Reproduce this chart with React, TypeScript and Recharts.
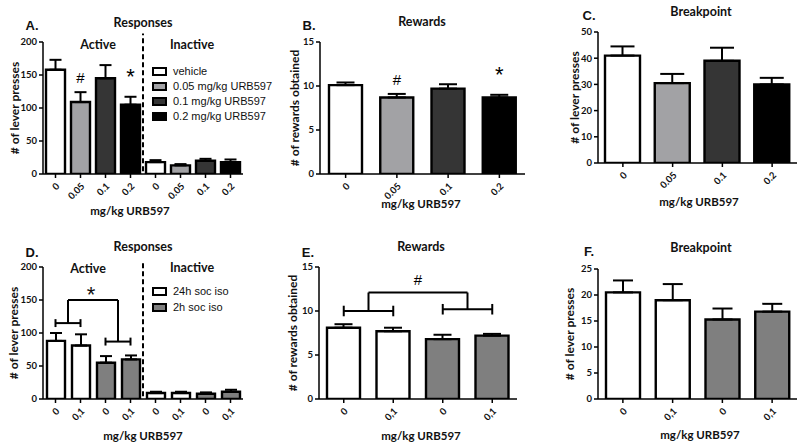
import React from 'react'
import {
  BarChart,
  Bar,
  XAxis,
  YAxis,
  Cell,
  ErrorBar,
  ReferenceLine,
  ReferenceDot,
} from 'recharts'

const CAL = 'Lato, "Open Sans", sans-serif'
const ARIAL = '"Liberation Sans", Arial, sans-serif'

// panels A-C: URB597 dose
const doseLabels = ['0', '0.05', '0.1', '0.2']
const doseFills = ['#ffffff', '#a2a2a5', '#353535', '#000000']
const doseLegend = ['vehicle', '0.05 mg/kg URB597', '0.1 mg/kg URB597', '0.2 mg/kg URB597']

const respActive = [158, 109, 145, 105]
const respActiveSem = [15, 15, 20, 12]
const respInactive = [18, 13, 20, 18]
const respInactiveSem = [3, 2, 3, 4]
const respMarks = ['', '#', '', '*']

const rewards = [10.1, 8.7, 9.7, 8.7]
const rewardsSem = [0.3, 0.4, 0.5, 0.3]
const rewardsMarks = ['', '#', '', '*']

const breakpoint = [41, 30.5, 39, 30]
const breakpointSem = [3.5, 3.5, 5, 2.5]

// panels D-F: social isolation
const isoLabels = ['0', '0,1', '0', '0,1']
const isoFills = ['#ffffff', '#ffffff', '#7f7f7f', '#7f7f7f']
const isoLegend = ['24h soc iso', '2h soc iso']
const isoLegendFills = ['#ffffff', '#7f7f7f']

const isoActive = [88, 81, 55, 60]
const isoActiveSem = [12, 17, 10, 6]
const isoInactive = [9, 9, 8, 11]
const isoInactiveSem = [2, 2, 2, 3]
const isoActiveBrackets = [115, 87, 150] // left pair, right pair, joining line

const isoRewards = [8.1, 7.7, 6.8, 7.2]
const isoRewardsSem = [0.4, 0.4, 0.5, 0.2]
const isoRewardsBrackets = [10.0, 10.2, 12.1]

const isoBreakpoint = [20.5, 19, 15.3, 16.8]
const isoBreakpointSem = [2.3, 3.1, 2.1, 1.5]

const ticks200 = [0, 50, 100, 150, 200]
const ticks15 = [0, 5, 10, 15]
const ticks50 = [0, 10, 20, 30, 40, 50]
const ticks25 = [0, 5, 10, 15, 20, 25]

type Row = { label: string; slot: number; v: number; err: number[]; fill: string; mark: string }

const rows = (labels: string[], fills: string[], vals: number[], sems: number[], marks?: string[], first = 0): Row[] =>
  labels.map((label, i) => ({
    label,
    slot: first + i + 0.5,
    v: vals[i],
    err: [0, sems[i]],
    fill: fills[i],
    mark: marks ? marks[i] : '',
  }))

const dataA = [
  ...rows(doseLabels, doseFills, respActive, respActiveSem, respMarks),
  ...rows(doseLabels, doseFills, respInactive, respInactiveSem, undefined, 4),
]
const dataB = rows(doseLabels, doseFills, rewards, rewardsSem, rewardsMarks)
const dataC = rows(doseLabels, doseFills, breakpoint, breakpointSem)
const dataD = [
  ...rows(isoLabels, isoFills, isoActive, isoActiveSem),
  ...rows(isoLabels, isoFills, isoInactive, isoInactiveSem, undefined, 4),
]
const dataE = rows(isoLabels, isoFills, isoRewards, isoRewardsSem)
const dataF = rows(isoLabels, isoFills, isoBreakpoint, isoBreakpointSem)

const tickFont = { fill: '#111', fontSize: 9.5, fontWeight: 700, fontFamily: CAL }
const line = { stroke: '#000', strokeWidth: 1.5 }

function seg(key: string, x1: number, y1: number, x2: number, y2: number, dashed = false) {
  return (
    <ReferenceLine
      key={key}
      xAxisId="n"
      segment={[{ x: x1, y: y1 }, { x: x2, y: y2 }]}
      stroke="#000"
      strokeWidth={2}
      strokeDasharray={dashed ? '5 3' : undefined}
      ifOverflow="visible"
    />
  )
}

// two pair brackets joined by an upper one
function brackets(levels: number[], tick: number) {
  const [l, r, top] = levels
  return [
    seg('bl', 0.5, l, 1.5, l),
    seg('bl1', 0.5, l - tick, 0.5, l + tick),
    seg('bl2', 1.5, l - tick, 1.5, l + tick),
    seg('br', 2.5, r, 3.5, r),
    seg('br1', 2.5, r - tick, 2.5, r + tick),
    seg('br2', 3.5, r - tick, 3.5, r + tick),
    seg('bt', 1, top, 3, top),
    seg('bt1', 1, l, 1, top),
    seg('bt2', 3, r, 3, top),
  ]
}

function marks(data: Row[]) {
  return data
    .map((d, i) =>
      d.mark ? (
        <ReferenceDot
          key={'m' + i}
          xAxisId="n"
          x={d.slot}
          y={d.v + d.err[1]}
          r={0}
          fill="none"
          stroke="none"
          ifOverflow="visible"
          label={{
            value: d.mark,
            position: 'top',
            offset: d.mark === '*' ? 13 : 9,
            fontSize: d.mark === '*' ? 22 : 15,
            fontFamily: ARIAL,
            fill: '#000',
          }}
        />
      ) : null,
    )
    .filter(Boolean)
}

type Box = { x: number; y: number; w: number; h: number }
type Plot = { l: number; t: number; r: number; b: number }

function Panel(p: {
  box: Box
  plot: Plot
  yLabelX: number
  data: Row[]
  yMax: number
  ticks: number[]
  barSize: number
  cap: number
  yLabel: string
  extras?: any[]
}) {
  const { box, plot, data } = p
  const ml = 4
  const xh = 30
  const margin = {
    top: plot.t - box.y,
    left: ml,
    right: box.x + box.w - plot.r,
    bottom: box.y + box.h - plot.b - xh,
  }
  return (
    <div style={{ position: 'absolute', left: box.x, top: box.y }}>
      <BarChart width={box.w} height={box.h} data={data} margin={margin}>
        <XAxis
          dataKey="label"
          height={xh}
          interval={0}
          tickSize={4}
          tickMargin={4}
          axisLine={line}
          tickLine={line}
          tick={{ ...tickFont, angle: -45, textAnchor: 'end' }}
        />
        <XAxis
          xAxisId="n"
          dataKey="slot"
          type="number"
          domain={[0, data.length]}
          allowDataOverflow
          hide
        />
        <YAxis
          width={plot.l - box.x - ml}
          domain={[0, p.yMax]}
          ticks={p.ticks}
          interval={0}
          allowDataOverflow
          tickSize={4}
          tickMargin={2}
          axisLine={line}
          tickLine={line}
          tick={tickFont}
          label={{
            value: p.yLabel,
            angle: -90,
            position: 'insideLeft',
            offset: p.yLabelX - box.x - ml,
            style: { textAnchor: 'middle', fontFamily: CAL, fontWeight: 700, fontSize: 12, fill: '#111' },
          }}
        />
        <Bar dataKey="v" barSize={p.barSize} stroke="#000" strokeWidth={2.4} isAnimationActive={false}>
          {data.map((d, i) => (
            <Cell key={i} fill={d.fill} />
          ))}
          <ErrorBar dataKey="err" width={p.cap} stroke="#000" strokeWidth={2} direction="y" />
        </Bar>
        {p.extras}
        {marks(data)}
      </BarChart>
    </div>
  )
}

function Txt({ t, x, y, size, font = CAL, bold = true }: any) {
  return (
    <div
      style={{
        position: 'absolute',
        left: x,
        top: y,
        transform: 'translate(-50%, -50%)',
        whiteSpace: 'nowrap',
        lineHeight: 1,
        fontFamily: font,
        fontWeight: bold ? 700 : 400,
        fontSize: size,
        color: '#111',
      }}
    >
      {t}
    </div>
  )
}

function Legend({ x, y, names, fills, step }: { x: number; y: number; names: string[]; fills: string[]; step: number }) {
  return (
    <>
      {names.map((n, i) => (
        <div
          key={n}
          style={{
            position: 'absolute',
            left: x,
            top: y + i * step - 6,
            height: 12,
            display: 'flex',
            alignItems: 'center',
            whiteSpace: 'nowrap',
            fontFamily: ARIAL,
            fontSize: 11,
            color: '#111',
          }}
        >
          <span
            style={{
              display: 'inline-block',
              width: 11,
              height: 5,
              border: '2px solid #000',
              background: fills[i],
              marginRight: 6,
            }}
          />
          {n}
        </div>
      ))}
    </>
  )
}

export default function App() {
  return (
    <div style={{ position: 'absolute', left: 0, top: 0, width: 800, height: 448, background: '#fff', overflow: 'hidden' }}>
      <Panel
        box={{ x: 0, y: 0, w: 265, h: 222 }}
        plot={{ l: 43, t: 42, r: 243, b: 174 }}
        yLabelX={15}
        data={dataA}
        yMax={200}
        ticks={ticks200}
        barSize={19}
        cap={6}
        yLabel="# of lever presses"
        extras={[seg('dash', 4, 4, 4, 213, true)]}
      />
      <Panel
        box={{ x: 270, y: 0, w: 260, h: 222 }}
        plot={{ l: 320, t: 42, r: 525, b: 174 }}
        yLabelX={295}
        data={dataB}
        yMax={15}
        ticks={ticks15}
        barSize={33}
        cap={9}
        yLabel="# of rewards obtained"
      />
      <Panel
        box={{ x: 530, y: 0, w: 270, h: 222 }}
        plot={{ l: 598, t: 32, r: 797, b: 163 }}
        yLabelX={575}
        data={dataC}
        yMax={50}
        ticks={ticks50}
        barSize={35}
        cap={12}
        yLabel="# of lever presses"
      />
      <Panel
        box={{ x: 0, y: 222, w: 265, h: 226 }}
        plot={{ l: 43, t: 267, r: 243, b: 399 }}
        yLabelX={14}
        data={dataD}
        yMax={200}
        ticks={ticks200}
        barSize={18}
        cap={6}
        yLabel="# of lever presses"
        extras={[seg('dash', 4, 4, 4, 206, true), ...brackets(isoActiveBrackets, 6)]}
      />
      <Panel
        box={{ x: 270, y: 222, w: 260, h: 226 }}
        plot={{ l: 319, t: 267, r: 517, b: 399 }}
        yLabelX={293}
        data={dataE}
        yMax={15}
        ticks={ticks15}
        barSize={33}
        cap={9}
        yLabel="# of rewards obtained"
        extras={[
          ...brackets(isoRewardsBrackets, 0.6),
          <ReferenceDot
            key="hash"
            xAxisId="n"
            x={2}
            y={isoRewardsBrackets[2]}
            r={0}
            fill="none"
            stroke="none"
            label={{ value: '#', position: 'top', offset: 8, fontSize: 15, fontFamily: ARIAL, fill: '#000' }}
          />,
        ]}
      />
      <Panel
        box={{ x: 530, y: 222, w: 270, h: 226 }}
        plot={{ l: 598, t: 269, r: 797, b: 399 }}
        yLabelX={570}
        data={dataF}
        yMax={25}
        ticks={ticks25}
        barSize={34}
        cap={10}
        yLabel="# of lever presses"
      />

      {/* D star over the joining bracket */}
      <Txt t="*" x={91} y={295} size={22} font={ARIAL} bold={false} />

      <Txt t="A." x={32} y={25} size={13} font={ARIAL} />
      <Txt t="Responses" x={143} y={23} size={12.5} />
      <Txt t="Active" x={98} y={45} size={12.5} />
      <Txt t="Inactive" x={192} y={45} size={12.5} />
      <Legend x={152} y={71} names={doseLegend} fills={doseFills} step={15} />
      <Txt t="mg/kg URB597" x={130} y={211} size={11.5} />

      <Txt t="B." x={309} y={25} size={13} font={ARIAL} />
      <Txt t="Rewards" x={422} y={22} size={12.5} />
      <Txt t="mg/kg URB597" x={421} y={204} size={11.5} />

      <Txt t="C." x={589} y={15} size={13} font={ARIAL} />
      <Txt t="Breakpoint" x={701} y={12} size={12.5} />
      <Txt t="mg/kg URB597" x={699} y={202} size={11.5} />

      <Txt t="D." x={32} y={252} size={13} font={ARIAL} />
      <Txt t="Responses" x={143} y={247} size={12.5} />
      <Txt t="Active" x={88} y={269} size={12.5} />
      <Txt t="Inactive" x={192} y={268} size={12.5} />
      <Legend x={152} y={291} names={isoLegend} fills={isoLegendFills} step={16} />
      <Txt t="mg/kg URB597" x={143} y={436} size={11.5} />

      <Txt t="E." x={308} y={252} size={13} font={ARIAL} />
      <Txt t="Rewards" x={421} y={247} size={12.5} />
      <Txt t="mg/kg URB597" x={421} y={436} size={11.5} />

      <Txt t="F." x={589} y={251} size={13} font={ARIAL} />
      <Txt t="Breakpoint" x={701} y={248} size={12.5} />
      <Txt t="mg/kg URB597" x={700} y={435} size={11.5} />
    </div>
  )
}
